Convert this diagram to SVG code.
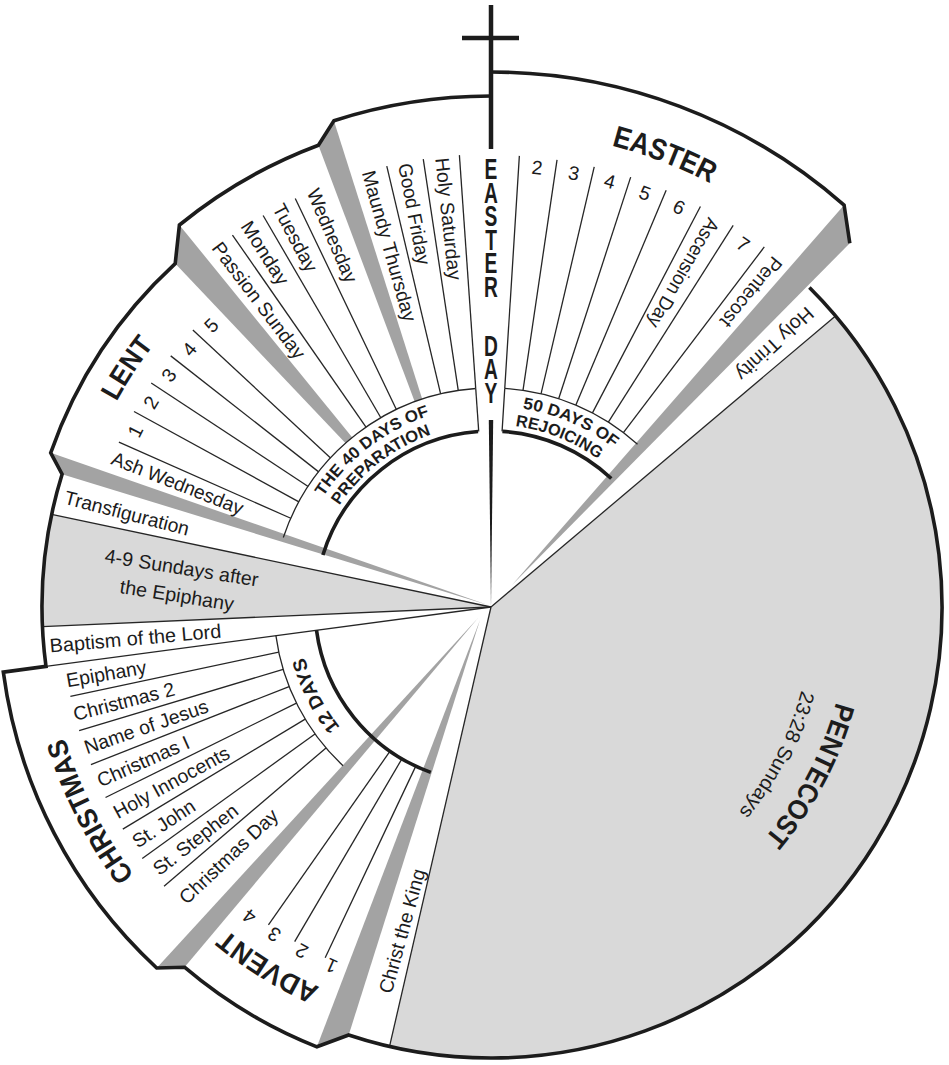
<svg xmlns="http://www.w3.org/2000/svg" width="949" height="1065" viewBox="0 0 949 1065">
<style>
text{font-family:"Liberation Sans",Arial,"DejaVu Sans",sans-serif;fill:#1c1c1c}
.l{font-size:19.5px;dominant-baseline:central}
.n{font-size:19.5px;dominant-baseline:central;text-anchor:middle}
.tt{font-size:28px;font-weight:bold}
.rg{font-size:16.5px;font-weight:bold}
.o{fill:none;stroke:#1c1c1c;stroke-width:3.6;stroke-linejoin:miter}
.s{stroke:#262626;stroke-width:1.3;fill:none}
.b{fill:#a3a3a3}
.g{fill:#d9d9d9}
</style>
<defs>
<path id="pEaster" d="M499.3,130.1 A477,477 0 0,1 804.0,247.0"/>
<path id="pLent" d="M75.4,508.8 A427,427 0 0,1 235.8,264.6"/>
<path id="pChristmas" d="M186.8,933.2 A446,446 0 0,1 48.3,661.4"/>
<path id="pAdvent" d="M405.7,1015.2 A417,417 0 0,1 163.3,864.9"/>
<path id="pPent" d="M845.7,655.6 A358,358 0 0,1 731.5,872.2"/>
<path id="pSun" d="M809.9,647.9 A321.5,321.5 0 0,1 709.0,843.3"/>
<path id="p40a" d="M305.7,529.9 A201,201 0 0,1 466.2,407.5"/>
<path id="p40b" d="M322.2,537.7 A182.5,182.5 0 0,1 466.5,426.1"/>
<path id="p50a" d="M467.6,407.4 A201,201 0 0,1 652.2,487.0"/>
<path id="p50b" d="M465.0,426.4 A182.5,182.5 0 0,1 634.4,494.1"/>
<path id="p12" d="M385.3,768.5 A193,193 0 0,1 298.3,596.2"/>
</defs>
<rect width="949" height="1065" fill="#fff"/>

<g id="fills">
<path class="g" d="M491,607 L835.5,315.9 A451,451 0 0,1 389.5,1046.4 Z"/>
<path class="g" d="M491,607 L51.7,514.4 A449,449 0 0,0 42.4,626.6 Z"/>
<path class="b" d="M844.1,205.1 L849.8,243.2 L512,585 Z"/>
<path class="b" d="M318.4,145.2 L333.9,120.7 L422.2,399.1 L414.7,401.7 Z"/>
<path class="b" d="M179.4,225.0 L175.2,263.6 L345.6,443.2 L352.3,437.5 Z"/>
<path class="b" d="M50.7,452.8 L62.1,474.2 L488,605 Z"/>
<path class="b" d="M156.7,968.0 L184.5,967.2 L478,618 Z"/>
<path class="b" d="M316.9,1046.8 L348.7,1035.0 L480,620 Z"/>
</g>

<g id="connectors">
<g transform="translate(491,607)" class="s">
<line x2="451" transform="rotate(-40.2)"/>
<line x2="451" transform="rotate(103)"/>
<line x2="449" transform="rotate(-168.1)"/>
<line x2="449" transform="rotate(177.5)"/>
<line x2="449" transform="rotate(172.4)"/>
<line x1="219" x2="452" transform="rotate(-86.4)"/>
<line x1="219" x2="452" transform="rotate(-81.6)"/>
<line x1="219" x2="452" transform="rotate(-76.8)"/>
<line x1="219" x2="452" transform="rotate(-72)"/>
<line x1="219" x2="452" transform="rotate(-67.2)"/>
<line x1="219" x2="452" transform="rotate(-62.4)"/>
<line x1="219" x2="452" transform="rotate(-57.6)"/>
<line x1="219" x2="452" transform="rotate(-52.8)"/>
<line x1="219" x2="453" transform="rotate(-94)"/>
<line x1="219" x2="453" transform="rotate(-98.6)"/>
<line x1="219" x2="453" transform="rotate(-103.3)"/>
<line x1="219" x2="453" transform="rotate(-115.6)"/>
<line x1="219" x2="453" transform="rotate(-120.2)"/>
<line x1="219" x2="453" transform="rotate(-124.8)"/>
<line x1="219" x2="407" transform="rotate(-137.1)"/>
<line x1="219" x2="407" transform="rotate(-141.9)"/>
<line x1="219" x2="407" transform="rotate(-146.6)"/>
<line x1="219" x2="407" transform="rotate(-151.3)"/>
<line x1="219" x2="407" transform="rotate(-156.1)"/>
<line x1="217" x2="430" transform="rotate(139.5)"/>
<line x1="217" x2="430" transform="rotate(144.2)"/>
<line x1="217" x2="430" transform="rotate(148.9)"/>
<line x1="217" x2="430" transform="rotate(153.7)"/>
<line x1="217" x2="430" transform="rotate(158.5)"/>
<line x1="217" x2="430" transform="rotate(163.3)"/>
<line x1="217" x2="430" transform="rotate(168)"/>
<line x1="176" x2="388" transform="rotate(115.3)"/>
<line x1="176" x2="388" transform="rotate(120.4)"/>
<line x1="176" x2="388" transform="rotate(125)"/>
<line x1="176" x2="219" transform="rotate(-94)"/>
<line x1="176" x2="219" transform="rotate(-86.4)"/>
</g>
<path class="s" d="M283.3,537.5 A219,219 0 0,1 475.7,388.5"/>
<path class="s" d="M504.8,388.4 A219,219 0 0,1 637.5,444.3"/>
<path class="s" d="M343.0,765.7 A217,217 0 0,1 275.9,635.7"/>
<path class="o" d="M322.9,555.0 A176,176 0 0,1 478.1,431.5"/>
<path class="o" d="M502.4,431.4 A176,176 0 0,1 611.3,478.5"/>
<path class="o" d="M430.8,772.4 A176,176 0 0,1 316.5,630.3"/>
<path class="o" d="M809.4,287.6 A451,451 0 0,1 348.7,1035.0 L316.9,1046.8 A473,473 0 0,1 184.5,967.2 L156.7,968.0 A492,492 0 0,1 3.3,672.1 L46.0,666.4 A449,449 0 0,1 62.1,474.2 L50.7,452.8 A466.5,466.5 0 0,1 175.2,263.6 L179.4,225.0 A493,493 0 0,1 318.4,145.2 L333.9,120.7 A511,511 0 0,1 491,96"/>
<path class="o" d="M491,72 A535,535 0 0,1 844.1,205.1 L849.8,243.2"/>
</g>

<g id="cross">
<line x1="491" y1="5" x2="491" y2="149" stroke="#1c1c1c" stroke-width="4.5"/>
<line x1="462" y1="38" x2="519" y2="38" stroke="#1c1c1c" stroke-width="4.5"/>
<path d="M488.8,420 L493.2,420 L491,607 Z" fill="#1c1c1c"/>
<g transform="translate(491,0) scale(0.64,1)" style="font-size:30px;font-weight:bold;text-anchor:middle">
<text y="179.5">E</text><text y="203">A</text><text y="226.5">S</text><text y="250">T</text><text y="273.5">E</text><text y="297">R</text>
<text y="356">D</text><text y="379.5">A</text><text y="403">Y</text>
</g>
</g>

<g id="easter">
<text class="tt" style="font-size:30px"><textPath href="#pEaster" startOffset="50%" text-anchor="middle" textLength="106" lengthAdjust="spacingAndGlyphs">EASTER</textPath></text>
<text class="rg"><textPath href="#p50a" startOffset="50%" text-anchor="middle" textLength="100" lengthAdjust="spacingAndGlyphs">50 DAYS OF</textPath></text>
<text class="rg"><textPath href="#p50b" startOffset="50%" text-anchor="middle" textLength="90" lengthAdjust="spacingAndGlyphs">REJOICING</textPath></text>
<g transform="translate(491,607)">
<text class="n" transform="rotate(-84) translate(442,0) rotate(90)">2</text>
<text class="n" transform="rotate(-79.2) translate(442,0) rotate(90)">3</text>
<text class="n" transform="rotate(-74.4) translate(442,0) rotate(90)">4</text>
<text class="n" transform="rotate(-69.6) translate(442,0) rotate(90)">5</text>
<text class="n" transform="rotate(-64.8) translate(442,0) rotate(90)">6</text>
<text class="n" transform="rotate(-55.2) translate(442,0) rotate(90)">7</text>
<text class="l" transform="rotate(120)" x="-447" textLength="123" lengthAdjust="spacingAndGlyphs">Ascension Day</text>
<text class="l" transform="rotate(129.6)" x="-451" textLength="85" lengthAdjust="spacingAndGlyphs">Pentecost</text>
</g>
</g>

<g id="holy-trinity">
<text class="l" transform="translate(491,607) rotate(137.2)" x="-436" textLength="98" lengthAdjust="spacingAndGlyphs">Holy Trinity</text>
</g>

<g id="pentecost">
<text class="tt"><textPath href="#pPent" startOffset="50%" text-anchor="middle" textLength="155" lengthAdjust="spacingAndGlyphs">PENTECOST</textPath></text>
<text style="font-size:20px"><textPath href="#pSun" startOffset="50%" text-anchor="middle" textLength="138" lengthAdjust="spacingAndGlyphs">23:28 Sundays</textPath></text>
</g>

<g id="lent">
<text class="rg"><textPath href="#p40a" startOffset="50%" text-anchor="middle" textLength="136" lengthAdjust="spacingAndGlyphs">THE 40 DAYS OF</textPath></text>
<text class="rg"><textPath href="#p40b" startOffset="50%" text-anchor="middle" textLength="118" lengthAdjust="spacingAndGlyphs">PREPARATION</textPath></text>
<text class="tt"><textPath href="#pLent" startOffset="50%" text-anchor="middle" textLength="68" lengthAdjust="spacingAndGlyphs">LENT</textPath></text>
<g transform="translate(491,607)">
<text class="l" transform="rotate(83.8)" x="-452" textLength="123" lengthAdjust="spacingAndGlyphs">Holy Saturday</text>
<text class="l" transform="rotate(79)" x="-452" textLength="103" lengthAdjust="spacingAndGlyphs">Good Friday</text>
<text class="l" transform="rotate(74.3)" x="-453" textLength="156" lengthAdjust="spacingAndGlyphs">Maundy Thursday</text>
<text class="l" transform="rotate(66.9)" x="-454" textLength="100" lengthAdjust="spacingAndGlyphs">Wednesday</text>
<text class="l" transform="rotate(62.1)" x="-455" textLength="74" lengthAdjust="spacingAndGlyphs">Tuesday</text>
<text class="l" transform="rotate(57.5)" x="-456" textLength="72" lengthAdjust="spacingAndGlyphs">Monday</text>
<text class="l" transform="rotate(52.9)" x="-455" textLength="141" lengthAdjust="spacingAndGlyphs">Passion Sunday</text>
<text class="n" transform="rotate(-134.8) translate(397,0) rotate(90)">5</text>
<text class="n" transform="rotate(-139.5) translate(397,0) rotate(90)">4</text>
<text class="n" transform="rotate(-144.25) translate(397,0) rotate(90)">3</text>
<text class="n" transform="rotate(-148.95) translate(397,0) rotate(90)">2</text>
<text class="n" transform="rotate(-153.7) translate(397,0) rotate(90)">1</text>
<text class="l" transform="rotate(21.6)" x="-407" textLength="140" lengthAdjust="spacingAndGlyphs">Ash Wednesday</text>
</g>
</g>

<g id="epiphany">
<text class="l" transform="translate(491,607) rotate(14.5)" x="-440" textLength="128" lengthAdjust="spacingAndGlyphs">Transfiguration</text>
<text class="l" transform="translate(181.7,567.5) rotate(9)" text-anchor="middle" textLength="155" lengthAdjust="spacingAndGlyphs">4-9 Sundays after</text>
<text class="l" transform="translate(177,595) rotate(9)" text-anchor="middle" textLength="115" lengthAdjust="spacingAndGlyphs">the Epiphany</text>
<text class="l" transform="translate(491,607) rotate(-5)" x="-443" textLength="172" lengthAdjust="spacingAndGlyphs">Baptism of the Lord</text>
</g>

<g id="christmas">
<text class="tt"><textPath href="#pChristmas" startOffset="50%" text-anchor="middle" textLength="155" lengthAdjust="spacingAndGlyphs">CHRISTMAS</textPath></text>
<text style="font-size:19px;font-weight:bold"><textPath href="#p12" startOffset="50%" text-anchor="middle" textLength="79" lengthAdjust="spacingAndGlyphs">12 DAYS</textPath></text>
<g transform="translate(491,607)">
<text class="l" transform="rotate(350.2)" x="-431" textLength="81" lengthAdjust="spacingAndGlyphs">Epiphany</text>
<text class="l" transform="rotate(345.6)" x="-431" textLength="104" lengthAdjust="spacingAndGlyphs">Christmas 2</text>
<text class="l" transform="rotate(340.9)" x="-430" textLength="130" lengthAdjust="spacingAndGlyphs">Name of Jesus</text>
<text class="l" transform="rotate(336.1)" x="-430" textLength="99" lengthAdjust="spacingAndGlyphs">Christmas I</text>
<text class="l" transform="rotate(331.3)" x="-429" textLength="129" lengthAdjust="spacingAndGlyphs">Holy Innocents</text>
<text class="l" transform="rotate(326.55)" x="-428" textLength="71" lengthAdjust="spacingAndGlyphs">St. John</text>
<text class="l" transform="rotate(321.85)" x="-427" textLength="102" lengthAdjust="spacingAndGlyphs">St. Stephen</text>
<text class="l" transform="rotate(316.5)" x="-426" textLength="128" lengthAdjust="spacingAndGlyphs">Christmas Day</text>
</g>
</g>

<g id="advent">
<text class="tt"><textPath href="#pAdvent" startOffset="50%" text-anchor="middle" textLength="110" lengthAdjust="spacingAndGlyphs">ADVENT</textPath></text>
<g transform="translate(491,607)">
<text class="n" transform="rotate(114) translate(393,0) rotate(90)">1</text>
<text class="n" transform="rotate(118.8) translate(393,0) rotate(90)">2</text>
<text class="n" transform="rotate(123.5) translate(393,0) rotate(90)">3</text>
<text class="n" transform="rotate(128) translate(393,0) rotate(90)">4</text>
</g>
</g>

<g id="christ-the-king">
<text class="l" transform="translate(491,607) rotate(285.4)" x="-400" textLength="128" lengthAdjust="spacingAndGlyphs">Christ the King</text>
</g>
</svg>
